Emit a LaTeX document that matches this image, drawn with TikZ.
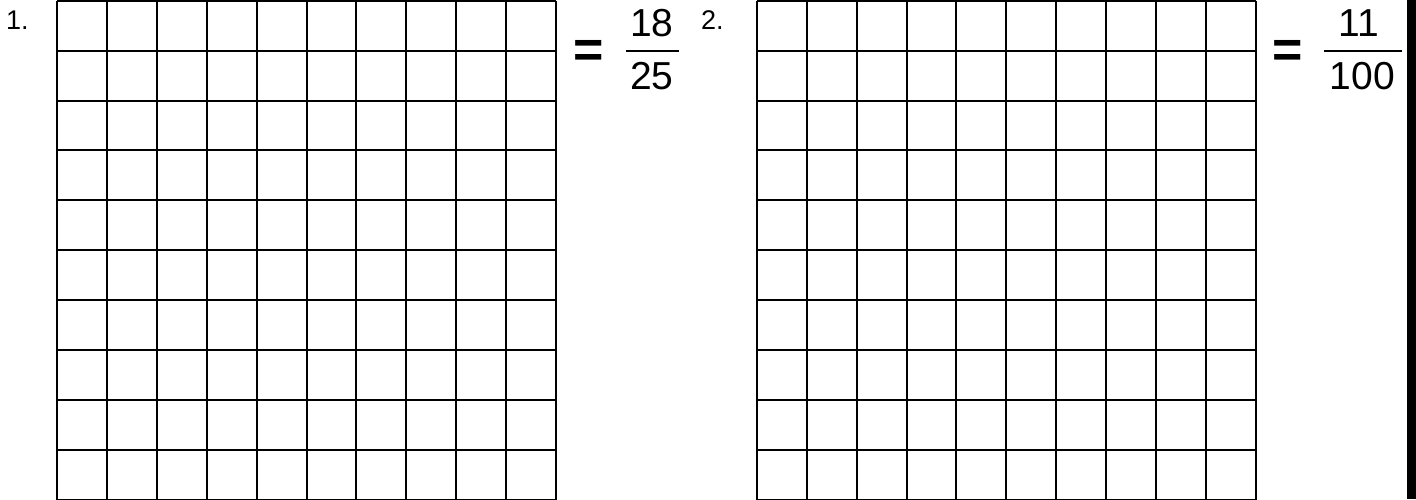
\documentclass[tikz,border=0pt]{standalone}
\usepackage{fontspec}
\setmainfont{Liberation Sans}
\begin{document}
\begin{tikzpicture}[x=1pt,y=-1pt,
  gridline/.style={line width=2pt,black},
  numlabel/.style={anchor=base west,inner sep=0pt,font=\fontsize{27}{30}\selectfont},
  fracnum/.style={anchor=base,inner sep=0pt,font=\fontsize{39}{44}\selectfont},
  eqsign/.style={anchor=base,inner sep=0pt,font=\fontsize{52}{56}\selectfont\bfseries},
  fracbar/.style={line width=2.2pt,black}]
\useasboundingbox (0,0) rectangle (1416,499);
\fill[white] (0,0) rectangle (1416,499);
% grid 1
\foreach \i in {0,...,10} {
  \draw[gridline] ({57.3+\i*49.84},0.7) -- ({57.3+\i*49.84},499.7);
  \draw[gridline] (57.3,{0.7+\i*49.9}) -- (555.7,{0.7+\i*49.9});
}
% grid 2
\foreach \i in {0,...,10} {
  \draw[gridline] ({756.7+\i*49.93},0.7) -- ({756.7+\i*49.93},499.7);
  \draw[gridline] (756.7,{0.7+\i*49.9}) -- (1256,{0.7+\i*49.9});
}
% labels
\node[numlabel] (l1) at (6,29) {1.};
\node[numlabel] (l2) at (701,29) {2.};
% fraction 1
\node[eqsign] (eq1) at (589,67) {=};
\node[fracnum] (n1) at (651.7,36.5) {18};
\node[fracnum] (d1) at (651.7,89.5) {25};
\coordinate (b1l) at (626,50.7);
\coordinate (b1r) at (679.3,50.7);
\draw[fracbar] (b1l) -- (b1r);
% fraction 2
\node[eqsign] (eq2) at (1288,67) {=};
\node[fracnum] (n2) at (1359,36.5) {11};
\node[fracnum] (d2) at (1362.5,89.5) {100};
\coordinate (b2l) at (1324,50.7);
\coordinate (b2r) at (1401.7,50.7);
\draw[fracbar] (b2l) -- (b2r);
% right edge bar
\fill[black] (1407.3,0) rectangle (1416,499);
\end{tikzpicture}
\end{document}
